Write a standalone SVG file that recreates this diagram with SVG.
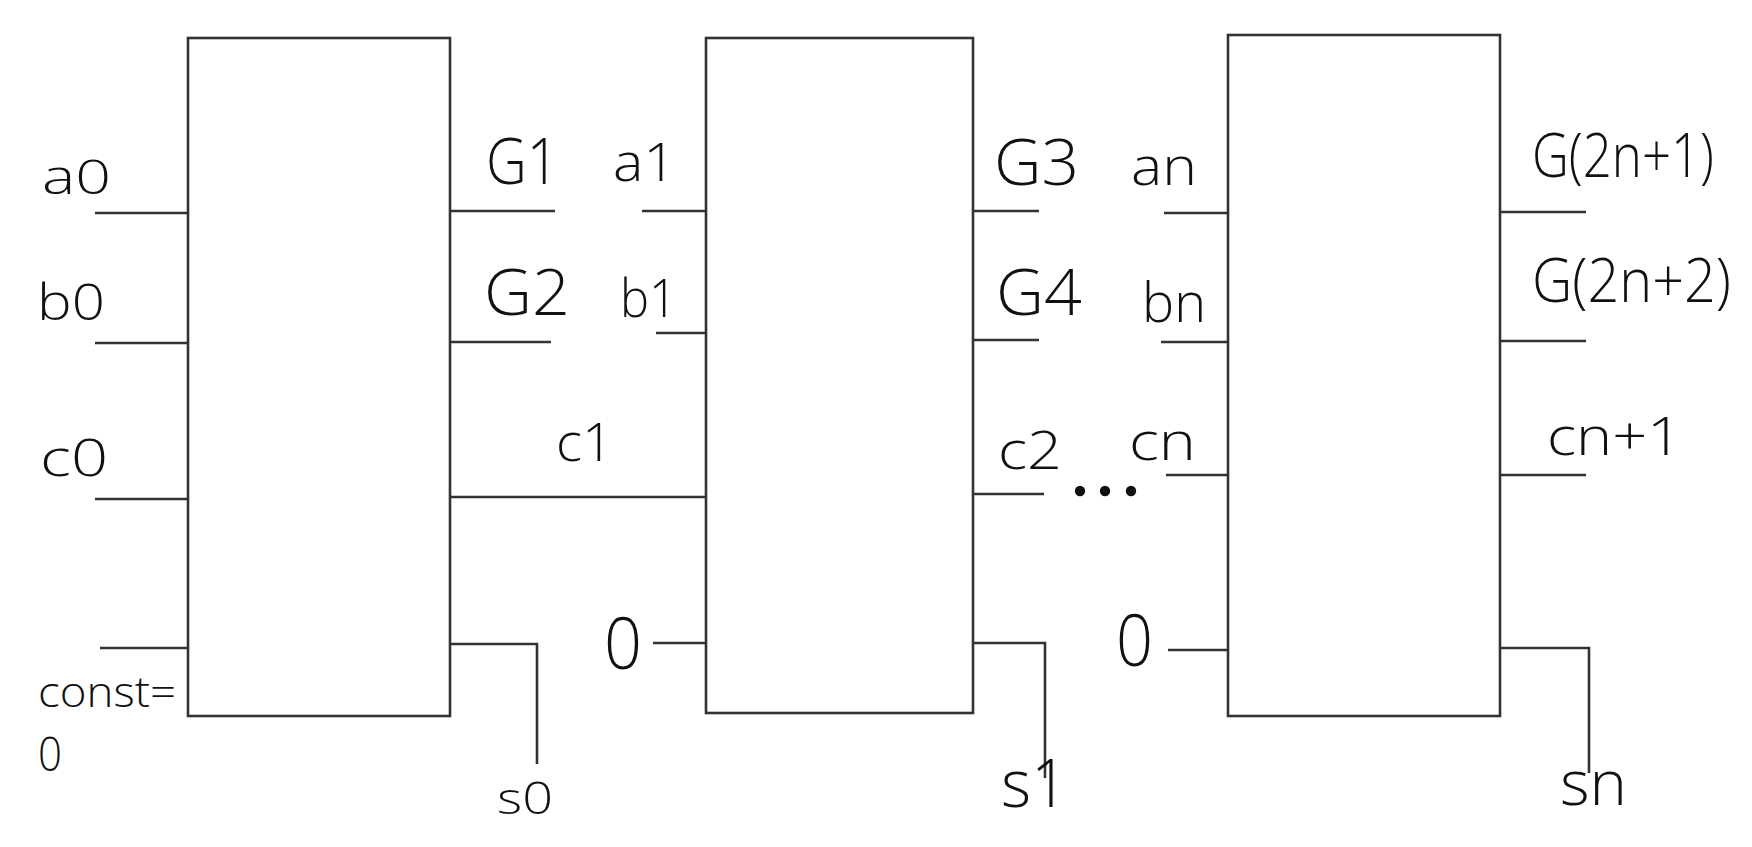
<svg xmlns="http://www.w3.org/2000/svg" width="1752" height="847" viewBox="0 0 1752 847">
<style>
.box{fill:#fff;stroke:#333;stroke-width:2.6}
.w{fill:none;stroke:#333;stroke-width:2.6}
text{font-family:"Open Sans","Noto Sans","Liberation Sans",sans-serif;font-weight:350;fill:#111}
</style>
<rect width="1752" height="847" fill="#fff"/>
<g id="connectors">
<line class="w" x1="95" y1="213" x2="188" y2="213"/>
<line class="w" x1="95" y1="343" x2="188" y2="343"/>
<line class="w" x1="95" y1="499" x2="188" y2="499"/>
<line class="w" x1="100" y1="648" x2="188" y2="648"/>
<line class="w" x1="450" y1="211" x2="555" y2="211"/>
<line class="w" x1="450" y1="342" x2="551" y2="342"/>
<line class="w" x1="450" y1="497" x2="706" y2="497"/>
<polyline class="w" points="450,644 537,644 537,764"/>
<line class="w" x1="642" y1="211" x2="706" y2="211"/>
<line class="w" x1="656" y1="333" x2="706" y2="333"/>
<line class="w" x1="653" y1="643" x2="706" y2="643"/>
<line class="w" x1="974" y1="211" x2="1039" y2="211"/>
<line class="w" x1="974" y1="340" x2="1039" y2="340"/>
<line class="w" x1="974" y1="494" x2="1044" y2="494"/>
<polyline class="w" points="974,643 1045,643 1045,778"/>
<line class="w" x1="1164" y1="213" x2="1228" y2="213"/>
<line class="w" x1="1161" y1="342" x2="1228" y2="342"/>
<line class="w" x1="1166" y1="475" x2="1228" y2="475"/>
<line class="w" x1="1168" y1="650" x2="1228" y2="650"/>
<line class="w" x1="1499" y1="212" x2="1586" y2="212"/>
<line class="w" x1="1499" y1="341" x2="1586" y2="341"/>
<line class="w" x1="1499" y1="475" x2="1586" y2="475"/>
<polyline class="w" points="1499,648 1589,648 1589,773"/>
<circle cx="1080" cy="491" r="5.2" fill="#111"/>
<circle cx="1105" cy="491" r="5.2" fill="#111"/>
<circle cx="1131" cy="491" r="5.2" fill="#111"/>
</g>
<g id="block0">
<rect class="box" x="188" y="38" width="262" height="678"/>
<text x="42" y="194" font-size="48" textLength="69" lengthAdjust="spacingAndGlyphs">a0</text>
<text x="37" y="320" font-size="50" textLength="68" lengthAdjust="spacingAndGlyphs">b0</text>
<text x="40" y="476" font-size="52" textLength="68" lengthAdjust="spacingAndGlyphs">c0</text>
<text x="38" y="707" font-size="42" textLength="138" lengthAdjust="spacingAndGlyphs">const=</text>
<text x="38" y="771" font-size="48" textLength="24" lengthAdjust="spacingAndGlyphs">0</text>
<text x="486" y="184" font-size="64" textLength="73" lengthAdjust="spacingAndGlyphs">G1</text>
<text x="484" y="315" font-size="64" textLength="86" lengthAdjust="spacingAndGlyphs">G2</text>
<text x="556" y="461" font-size="54" textLength="57" lengthAdjust="spacingAndGlyphs">c1</text>
<text x="497" y="814" font-size="44" textLength="56" lengthAdjust="spacingAndGlyphs">s0</text>
</g>
<g id="block1">
<rect class="box" x="706" y="38" width="267" height="675"/>
<text x="613" y="181" font-size="54" textLength="63" lengthAdjust="spacingAndGlyphs">a1</text>
<text x="620" y="317" font-size="54" textLength="57" lengthAdjust="spacingAndGlyphs">b1</text>
<text x="604" y="669" font-size="72" textLength="38" lengthAdjust="spacingAndGlyphs">0</text>
<text x="994" y="185" font-size="64" textLength="85" lengthAdjust="spacingAndGlyphs">G3</text>
<text x="996" y="315" font-size="64" textLength="86" lengthAdjust="spacingAndGlyphs">G4</text>
<text x="998" y="469" font-size="54" textLength="64" lengthAdjust="spacingAndGlyphs">c2</text>
<text x="1001" y="807" font-size="66" textLength="67" lengthAdjust="spacingAndGlyphs">s1</text>
</g>
<g id="blockn">
<rect class="box" x="1228" y="35" width="272" height="681"/>
<text x="1131" y="185" font-size="54" textLength="66" lengthAdjust="spacingAndGlyphs">an</text>
<text x="1142" y="322" font-size="56" textLength="64" lengthAdjust="spacingAndGlyphs">bn</text>
<text x="1129" y="460" font-size="54" textLength="67" lengthAdjust="spacingAndGlyphs">cn</text>
<text x="1116" y="666" font-size="72" textLength="37" lengthAdjust="spacingAndGlyphs">0</text>
<text x="1532" y="177" font-size="60" textLength="182" lengthAdjust="spacingAndGlyphs">G(2n+1)</text>
<text x="1532" y="302" font-size="60" textLength="199" lengthAdjust="spacingAndGlyphs">G(2n+2)</text>
<text x="1547" y="455" font-size="54" textLength="135" lengthAdjust="spacingAndGlyphs">cn+1</text>
<text x="1560" y="805" font-size="62" textLength="67" lengthAdjust="spacingAndGlyphs">sn</text>
</g>
</svg>
